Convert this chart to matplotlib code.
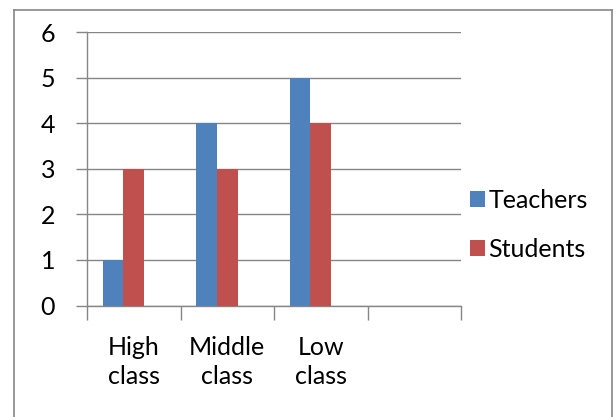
import numpy as np
import matplotlib
matplotlib.use("Agg")
import matplotlib.pyplot as plt
from matplotlib.lines import Line2D

# data
categories = ["High\nclass", "Middle\nclass", "Low\nclass", ""]
teachers = [1, 4, 5, np.nan]
students = [3, 3, 4, np.nan]
y_ticks = [0, 1, 2, 3, 4, 5, 6]

BLUE = "#4F81BD"
RED = "#C0504D"
GRID = "#868686"
FONT = "Lato"
FS = 18

fig = plt.figure(figsize=(6.16, 4.17), dpi=100, facecolor="white")
ax = fig.add_axes([87 / 616, 1 - 305.5 / 417, 374 / 616, 273.2 / 417])

# Excel-style clustered columns: 3 slots per group (third slot empty), gap 150%
w = 1 / 4.5
centers = np.arange(len(categories)) + 0.5
ax.bar(centers - w, teachers, width=w, color=BLUE, label="Teachers", zorder=3)
ax.bar(centers, students, width=w, color=RED, label="Students", zorder=3)

ax.set_xlim(0, len(categories))
ax.set_ylim(0, 6)

# boundary ticks (major), labels at category centres (minor)
ax.set_xticks(np.arange(len(categories) + 1))
ax.set_xticklabels([])
ax.set_xticks(centers, minor=True)
ax.set_xticklabels(categories, minor=True, fontsize=FS, family=FONT, linespacing=1.3)
ax.tick_params(axis="x", which="major", length=10, width=1, color=GRID, direction="out")
ax.tick_params(axis="x", which="minor", length=0, pad=22)

ax.set_yticks(y_ticks)
ax.set_yticklabels([str(v) for v in y_ticks], fontsize=FS, family=FONT)
ax.tick_params(axis="y", length=8, width=1, color=GRID, direction="out", pad=15)

ax.grid(axis="y", color=GRID, linewidth=1, zorder=0)
for side in ["top", "right"]:
    ax.spines[side].set_visible(False)
for side in ["left", "bottom"]:
    ax.spines[side].set_color(GRID)
    ax.spines[side].set_linewidth(1)

leg = fig.legend(loc="upper left", bbox_to_anchor=(457 / 616, 1 - 176 / 417),
                 frameon=False, prop={"family": FONT, "size": FS},
                 handlelength=0.6, handleheight=0.6, handletextpad=0.15,
                 labelspacing=1.05, borderpad=0)

# outer chart border
for xs, ys in [([14, 14], [417, 10]), ([14, 612], [10, 10]), ([612, 612], [10, 417])]:
    fig.add_artist(Line2D([x / 616 for x in xs], [1 - y / 417 for y in ys],
                          color=GRID, linewidth=1.2))

fig.savefig("out.png", dpi=100, facecolor="white")
